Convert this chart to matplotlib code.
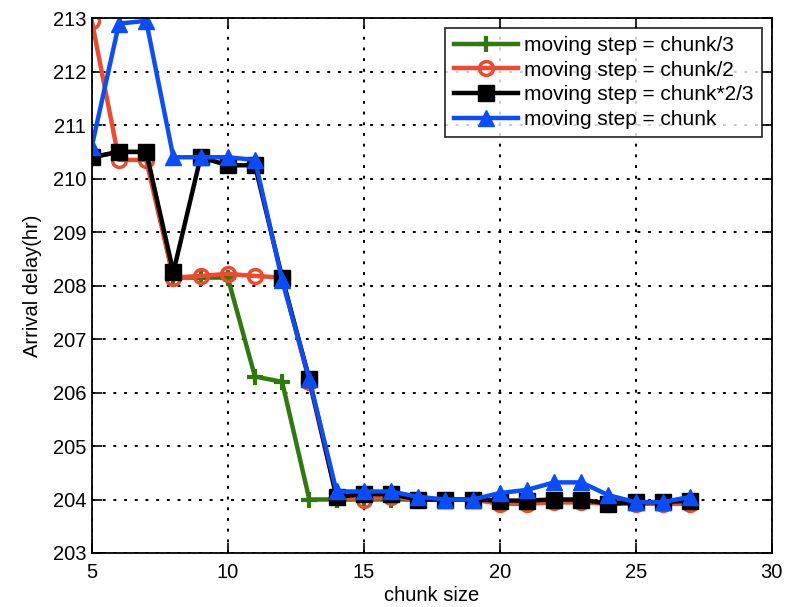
import matplotlib
matplotlib.use("Agg")
import matplotlib.pyplot as plt

plt.rcParams['font.family'] = ['Liberation Sans', 'DejaVu Sans']

chunk = list(range(5, 28))
step_third = [210.4, 210.5, 210.5, 208.15, 208.15, 208.15, 206.3, 206.2, 204.0, 204.0, 204.0, 204.0, 204.0, 204.0, 204.0,
              203.98, 203.95, 203.95, 203.95, 203.95, 203.95, 203.95, 203.95]
step_half = [212.95, 210.35, 210.35, 208.15, 208.18, 208.22, 208.18, 208.15, 206.2, 204.05, 204.0, 204.05, 204.0, 204.0,
             204.0, 203.92, 203.92, 203.95, 203.95, 203.92, 203.92, 203.92, 203.92]
step_two_thirds = [210.4, 210.5, 210.5, 208.25, 210.4, 210.25, 210.25, 208.15, 206.25, 204.05, 204.1, 204.1, 204.0, 204.0,
                   204.0, 203.98, 203.98, 204.0, 204.0, 203.92, 203.95, 203.95, 203.98]
step_full = [210.6, 212.9, 212.95, 210.4, 210.4, 210.4, 210.35, 208.1, 206.25, 204.15, 204.15, 204.15, 204.05, 204.0,
             204.0, 204.12, 204.18, 204.32, 204.32, 204.08, 203.95, 203.95, 204.05]

labels = ['moving step = chunk/3', 'moving step = chunk/2', 'moving step = chunk*2/3', 'moving step = chunk']

fig = plt.figure(figsize=(7.98, 6.07), dpi=100)
ax = fig.add_axes([0.115, 0.089, 0.852, 0.881])

ax.plot(chunk, step_third, color='#2f7a0c', lw=3.2, marker='+', ms=11, mew=3, label=labels[0])
ax.plot(chunk, step_half, color='#f04a2e', lw=3.2, marker='o', ms=10, mew=2.5, mfc='none', label=labels[1])
ax.plot(chunk, step_two_thirds, color='black', lw=3.2, marker='s', ms=11, label=labels[2])
ax.plot(chunk, step_full, color='#0a4dff', lw=3.2, marker='^', ms=12, label=labels[3])

ax.set_xlim(5, 30)
ax.set_ylim(203, 213)
ax.set_xticks(range(5, 31, 5))
ax.set_yticks(range(203, 214))
ax.grid(True, color='black', linestyle=(0, (1.5, 4)), linewidth=1.4)
ax.tick_params(direction='in', top=True, right=True, labelsize=14.5, length=7, width=1.2, pad=4)
ax.tick_params(axis='x', pad=7)
for s in ax.spines.values():
    s.set_linewidth(1.3)
ax.set_xlabel('chunk size', fontsize=14.5, labelpad=3)
ax.set_ylabel('Arrival delay(hr)', fontsize=14.5, labelpad=8)

leg = ax.legend(loc='upper right', fontsize=15, frameon=True, fancybox=False, edgecolor='black',
                handlelength=3.1, borderaxespad=0.45, labelspacing=0.27, handletextpad=0.3, borderpad=0.4)
leg.get_frame().set_linewidth(1.3)

fig.savefig('out.png', dpi=100)
